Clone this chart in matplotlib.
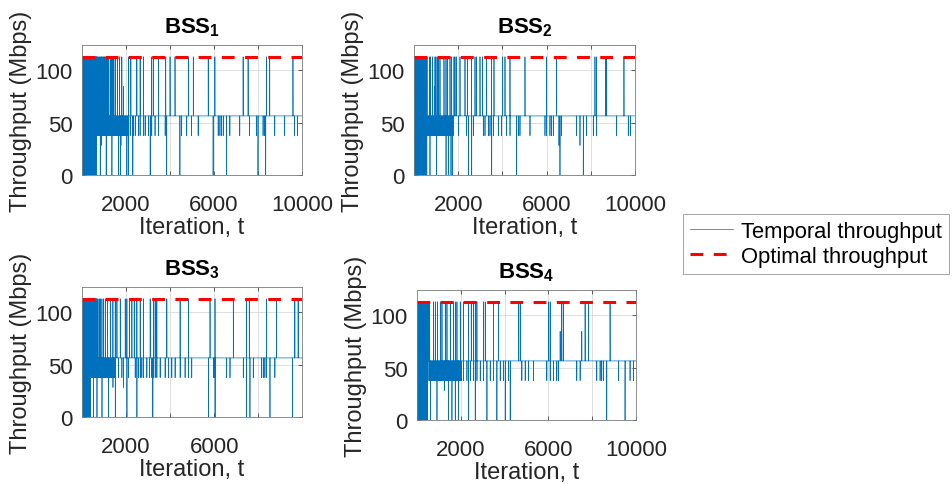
import numpy as np
import matplotlib
matplotlib.use("Agg")
import matplotlib.pyplot as plt

plt.rcParams['font.family'] = ['Liberation Sans', 'DejaVu Sans']
plt.rcParams['mathtext.fontset'] = 'custom'
plt.rcParams['mathtext.rm'] = 'Liberation Sans'
plt.rcParams['mathtext.bf'] = 'Liberation Sans:bold'

n_iter = 10000
opt_tput = 112.9
# throughput levels the BSS can settle on (Mbps)
lvl_full = 112.9
lvl_3q = 84.7
lvl_half = 56.45
lvl_third = 37.6
lvl_quarter = 28.2
lvl_zero = 0.0

# iterations at which each BSS leaves the half-rate level
bss1_full = [2, 21, 44, 63, 88, 109, 131, 150, 176, 197, 219, 243, 262, 287, 309, 330, 356, 377,
             399, 423, 446, 468, 491, 512, 537, 559, 584, 607, 631, 655, 678,
             700, 760, 790, 840, 880, 910, 960, 1000, 1040, 1090, 1130, 1180, 1220, 1290, 1340,
             1400, 1450, 1520, 1610, 1700, 1740, 1810, 2114, 2220, 2492, 2643, 2794, 3171, 3247,
             3473, 3805, 4002, 4228, 4832, 5059, 5738, 6040, 7324, 7550, 8381, 8532, 9589]
bss1_third = [702, 738, 771, 809, 846, 884, 921, 957, 996, 1033, 1069, 1104, 1142, 1181, 1219,
              1254, 1292, 1331, 1368, 1403, 1441, 1479, 1516, 1553, 1591, 1628, 1664, 1702, 1739,
              1777, 1814, 1852, 1889, 1927, 1964, 2001, 2039, 2077,
              2190, 2340, 2420, 2570, 2640, 2790, 2870, 3020, 3170, 3320, 3470, 3780, 4530, 4760,
              4980, 5280, 5960, 6190, 6270, 6340, 6420, 6720, 7170, 7620, 7930, 8230, 8300, 8760,
              9210, 9660, 9790]
bss1_zero = [9, 32, 55, 76, 99, 120, 142, 166, 187, 208, 230, 253, 274, 297, 320, 342, 366, 388,
             411, 434, 457, 480, 502, 525, 548, 571, 596, 619, 643,
             830, 1100, 1360, 1660, 1740, 2040, 2110, 2310, 3100, 3850, 4450, 5960, 6570, 8000, 8350]
bss1_quarter = [870, 1770]
bss1_3q = [1890]

bss2_full = [4, 26, 47, 69, 93, 114, 138, 159, 181, 204, 227, 249, 271, 296, 317, 339, 362, 385,
             407, 431, 452, 476, 498, 521, 544, 566, 590,
             694, 754, 845, 950, 995, 1056, 1116, 1176, 1357, 1448, 1508, 1629, 1704, 1810, 1855,
             1930, 2081, 2307, 2413, 2609, 2760, 2835, 2986, 3106, 3287, 3514, 3619, 4011, 4117,
             4343, 5022, 6002, 6454, 8188, 8264, 8671, 8716, 9500]
bss2_third = [612, 648, 687, 723, 761, 798, 836, 873, 911, 948, 986, 1023, 1061, 1098, 1136, 1173,
              1211, 1248, 1286, 1323, 1361, 1398, 1436, 1473, 1511, 1548, 1586, 1623, 1661, 1698,
              1736, 1774,
              2006, 2383, 2684, 3137, 3212, 3363, 3438, 3589, 3815, 3966, 4192, 4345, 4720, 4795,
              5248, 5926, 6004, 6152, 6228, 6303, 6680, 7359, 7811, 8113, 8266, 9169, 9696, 9802]
bss2_zero = [12, 35, 57, 80, 102, 125, 148, 170, 192, 215, 238, 260, 283, 306, 328, 351, 373, 396,
             419, 441, 464, 487, 510, 532, 555, 578,
             724, 1025, 1450, 1553, 1674, 1734, 2458, 2611, 3516, 4645, 6605, 7660]
bss2_quarter = [420, 6560, 7510]
bss2_3q = [920]

bss3_full = [3, 24, 46, 68, 91, 112, 135, 157, 179, 202, 224, 246, 269, 291, 313, 336, 358, 380,
             403, 425, 447, 470, 492, 514, 537, 559, 581, 604, 626, 648, 671,
             725, 785, 831, 906, 982, 1057, 1163, 1284, 1404, 1510, 1586, 1737, 1963, 2039, 2159,
             2265, 2371, 2492, 2643, 2794, 3096, 3247, 3322, 3398, 3851, 4455, 4832, 5814, 6040,
             6871, 7475, 7596, 8381, 8834, 9664, 9815]
bss3_third = [414, 437, 459, 481, 503, 526, 549, 593, 615, 638, 660, 695, 733, 770, 808, 845, 883,
              920, 958, 995, 1033, 1070, 1108, 1145, 1183, 1220, 1258, 1295, 1333, 1370, 1408,
              1445, 1483,
              1661, 1812, 1888, 2114, 2416, 2567, 2645, 2718, 2796, 2945, 3065, 3171, 3249, 3324,
              3400, 3549, 3775, 3926, 4077, 4228, 4457, 4681, 4834, 4983, 5965, 6042, 6569, 6720,
              7324, 7777, 8154, 8230, 8305, 8383, 8534, 8758]
bss3_zero = [11, 33, 56, 78, 100, 123, 145, 167, 190, 212, 234, 257, 279, 301, 324, 346, 368, 391,
             529, 680, 908, 1208, 1512, 2041, 2494, 3216, 5738, 6044, 7477, 7626, 8536, 9558]
bss3_quarter = [1406, 1890]
bss3_3q = []

bss4_full = [2, 23, 45, 66, 89, 110, 133, 154, 177, 198, 221, 243, 265, 287, 309, 331, 354, 376,
             398, 420, 442, 465, 487, 509, 531,
             578, 760, 836, 942, 1064, 1140, 1292, 1368, 1520, 1672, 1750, 1824, 1976, 2128, 2358,
             2478, 2584, 2662, 2736, 3040, 3116, 3496, 3724, 4636, 4712, 6004, 6080, 6612, 6688,
             7676, 7828, 8816]
bss4_third = [545, 583, 620, 658, 696, 734, 772, 810, 848, 886, 924, 962, 1000, 1038, 1076, 1114,
              1152, 1190, 1228, 1266, 1304, 1342, 1380, 1418, 1456, 1494, 1532, 1570, 1608, 1646,
              1684, 1722, 1760, 1798, 1836, 1874, 1912, 1950, 1988, 2026,
              2130, 2280, 2432, 2586, 2738, 2888, 3042, 3192, 3344, 3498, 3650, 3800, 3952, 4180,
              4788, 4940, 5092, 5320, 5928, 6082, 6232, 6384, 6460, 7296, 7448, 8208, 8360, 8436,
              8512, 8666, 9196, 9502, 9728, 9880]
bss4_zero = [10, 32, 54, 76, 98, 121, 143, 165, 187, 209, 232, 254, 276, 298, 321, 343, 365, 387,
             410, 432, 454, 476,
             608, 912, 1444, 1596, 1748, 1900, 2356, 2660, 3194, 3648, 4028, 4256, 8664, 9500]
bss4_quarter = [425, 1246]
bss4_3q = [6536, 7524]

bss_events = [
    (bss1_full, bss1_third, bss1_zero, bss1_quarter, bss1_3q),
    (bss2_full, bss2_third, bss2_zero, bss2_quarter, bss2_3q),
    (bss3_full, bss3_third, bss3_zero, bss3_quarter, bss3_3q),
    (bss4_full, bss4_third, bss4_zero, bss4_quarter, bss4_3q),
]
titles = [r'$\mathbf{BSS}_{\mathbf{%d}}$' % (i + 1) for i in range(4)]


def build_series(full, third, zero, quarter, q3):
    y = np.full(n_iter, lvl_half)
    y[third] = lvl_third
    y[quarter] = lvl_quarter
    y[q3] = lvl_3q
    y[full] = lvl_full
    y[zero] = lvl_zero
    return y


W, H = 952, 485
fig = plt.figure(figsize=(W / 100, H / 100), dpi=100)

# axes boxes in pixels: left, top, right, bottom
boxes = [(82, 46, 302, 176), (414, 46, 635, 176),
         (82, 288, 302, 418), (417, 291, 636, 421)]

blue = '#0072BD'
dark = '#262626'
x = np.arange(n_iter)
handles = None
for i, (l, t, r, b) in enumerate(boxes):
    ax = fig.add_axes([l / W, 1 - b / H, (r - l) / W, (b - t) / H])
    y = build_series(*bss_events[i])
    h1, = ax.plot(x, y, color=blue, lw=0.5, label='Temporal throughput')
    h2, = ax.plot([0, n_iter], [opt_tput, opt_tput], color='#FF0000', lw=2.2,
                  dashes=(4.2, 3.4), label='Optimal throughput')
    handles = [h1, h2]
    ax.set_xlim(0, 9990 if i == 2 else n_iter)
    ax.set_ylim(0, 1.1 * opt_tput)
    if i == 2:
        ax.set_xticks([2000, 4000, 6000, 8000])
        ax.set_xticklabels(['2000', '', '6000', ''])
    else:
        ax.set_xticks([2000, 4000, 6000, 8000, 10000])
        ax.set_xticklabels(['2000', '', '6000', '', '10000'])
    ax.set_yticks([0, 50, 100])
    ax.grid(True, color='#d9d9d9', lw=0.6)
    ax.tick_params(direction='in', length=3, width=0.5, colors=dark,
                   labelsize=16, top=True, right=True)
    ax.tick_params(axis='x', pad=13.5)
    ax.tick_params(axis='y', pad=6.5)
    for s in ax.spines.values():
        s.set_color('#7a7a7a')
        s.set_linewidth(0.6)
    ax.set_xlabel('Iteration, t', fontsize=17, color=dark, labelpad=1)
    ax.set_ylabel('Throughput (Mbps)', fontsize=17, color=dark, labelpad=2.5)
    ax.set_title(titles[i], fontsize=16, pad=9)

leg = fig.legend(handles=handles, loc='upper left', bbox_to_anchor=(683 / W, 1 - 215 / H),
                 fontsize=15.8, frameon=True, fancybox=False, handlelength=2.0,
                 handletextpad=0.35, borderpad=0.3, labelspacing=0.2, borderaxespad=0)
leg.get_frame().set_edgecolor('#7a7a7a')
leg.get_frame().set_linewidth(0.6)

fig.savefig('out.png', dpi=100)
